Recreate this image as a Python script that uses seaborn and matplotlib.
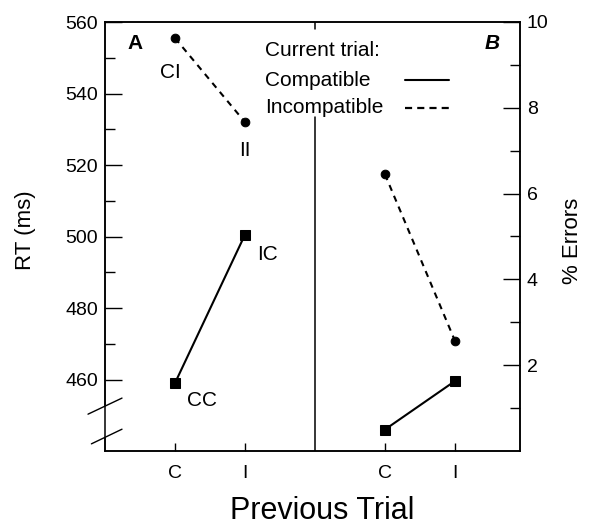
import matplotlib
matplotlib.use("Agg")
import matplotlib.pyplot as plt
from matplotlib.ticker import FixedLocator
import seaborn as sns
import pandas as pd

sns.set_style("ticks")
plt.rcParams['font.family'] = ['Liberation Sans', 'DejaVu Sans']
plt.rcParams.update({"text.color": "black", "axes.labelcolor": "black",
                     "xtick.color": "black", "ytick.color": "black"})

# ---- data ----
prev_trial = ["C", "I"]
rt_compatible = [459, 500.5]      # CC, IC
rt_incompatible = [555.5, 532]    # CI, II
err_compatible = [0.5, 1.63]
err_incompatible = [6.45, 2.57]
current_labels = ["Compatible", "Incompatible"]

posA = [1, 2]
posB = [4, 5]

dfA = pd.DataFrame({
    "pos": posA + posA,
    "val": rt_compatible + rt_incompatible,
    "current": [current_labels[0]] * 2 + [current_labels[1]] * 2,
})
dfB = pd.DataFrame({
    "pos": posB + posB,
    "val": err_compatible + err_incompatible,
    "current": [current_labels[0]] * 2 + [current_labels[1]] * 2,
})

fig = plt.figure(figsize=(5.89, 5.26), dpi=100)
L, R, T, B = 105, 520, 22, 451
W, H = 589, 526
ax = fig.add_axes([L / W, 1 - B / H, (R - L) / W, (B - T) / H])
ax2 = ax.twinx()

markers = {"Compatible": "s", "Incompatible": "o"}
dashes = {"Compatible": "", "Incompatible": (3, 2.6)}
common = dict(x="pos", y="val", style="current", markers=markers, dashes=dashes,
              color="black", linewidth=1.5, legend=False)

sns.lineplot(data=dfA, ax=ax, **common)
sns.lineplot(data=dfB, ax=ax2, **common)
for a in (ax, ax2):
    for ln in a.lines:
        ln.set_markeredgecolor("black")
        ln.set_markerfacecolor("black")
        ln.set_markersize(7 if ln.get_marker() == "s" else 6.2)

ax.set_xlim(0, 5.93)
ax.set_ylim(440, 560)
ax2.set_ylim(0, 10)

# x ticks
ax.xaxis.set_major_locator(FixedLocator(posA + posB))
ax.set_xticklabels(prev_trial + prev_trial)
ax.tick_params(axis="x", direction="in", length=6, width=1, pad=10, labelsize=14)
ax.set_xlabel("")
ax.set_ylabel("")
ax2.set_ylabel("")

# left y ticks
ax.yaxis.set_major_locator(FixedLocator([460, 480, 500, 520, 540, 560]))
ax.yaxis.set_minor_locator(FixedLocator([470, 490, 510, 530, 550]))
ax.tick_params(axis="y", which="major", direction="in", length=12, width=1, pad=5, labelsize=14)
ax.tick_params(axis="y", which="minor", direction="in", length=7, width=1)

# right y ticks
ax2.yaxis.set_major_locator(FixedLocator([2, 4, 6, 8, 10]))
ax2.yaxis.set_minor_locator(FixedLocator([1, 3, 5, 7, 9]))
ax2.tick_params(axis="y", which="major", direction="in", length=12, width=1, pad=5, labelsize=14)
ax2.tick_params(axis="y", which="minor", direction="in", length=7, width=1)

for a in (ax, ax2):
    for s in a.spines.values():
        s.set_linewidth(1.1)
        s.set_color("black")
        s.set_visible(True)

# broken left axis
ax.spines["left"].set_bounds(453, 560)
ax.plot([0, 0], [440, 443.6], color="black", lw=1.1, clip_on=False)
dx = 17 / (R - L)
ax.plot([-dx, dx], [450.3, 454.8], color="black", lw=1.0, clip_on=False,
        transform=ax.get_yaxis_transform())
ax.plot([-dx * 0.8, dx], [442.0, 446.1], color="black", lw=1.0, clip_on=False,
        transform=ax.get_yaxis_transform())

# panel divider
ax.axvline(3, ymin=0, ymax=(B - 117) / (B - T), color="black", lw=1.1)
ax.axvline(3, ymin=1 - 7 / (B - T), ymax=1, color="black", lw=1.1)

# point labels
ax.text(0.93, 546, "CI", ha="center", va="center", fontsize=15)
ax.text(2.0, 524, "II", ha="center", va="center", fontsize=15)
ax.text(2.17, 495, "IC", ha="left", va="center", fontsize=15)
ax.text(1.17, 454, "CC", ha="left", va="center", fontsize=15)

# panel letters
ax.text(0.43, 554, "A", ha="center", va="center", fontsize=15, fontweight="bold")
ax.text(5.53, 554, "B", ha="center", va="center", fontsize=15, fontweight="bold", style="italic")

# legend (drawn manually: labels left-aligned, line samples to the right)
def fx(px):
    return (px - L) / (R - L)

def fy(py):
    return (B - py) / (B - T)

ax.text(fx(265), fy(56), "Current trial:", transform=ax.transAxes, ha="left",
        va="baseline", fontsize=15)
ax.text(fx(265), fy(86), current_labels[0], transform=ax.transAxes, ha="left",
        va="baseline", fontsize=15)
ax.text(fx(265), fy(113), current_labels[1], transform=ax.transAxes, ha="left",
        va="baseline", fontsize=15)
ax.plot([fx(405), fx(449)], [fy(80), fy(80)], color="black", lw=1.5,
        transform=ax.transAxes)
ax.plot([fx(405), fx(449)], [fy(108), fy(108)], color="black", lw=1.6,
        ls=(0, (3.2, 2.3)), transform=ax.transAxes)

# axis labels
fig.text(25 / W, 1 - 230 / H, "RT (ms)", rotation=90, ha="center", va="center", fontsize=16)
fig.text(572 / W, 1 - 241 / H, "% Errors", rotation=90, ha="center", va="center", fontsize=16)
fig.text(322 / W, 1 - 511 / H, "Previous Trial", ha="center", va="center", fontsize=22)

fig.savefig("out.png", dpi=100)
